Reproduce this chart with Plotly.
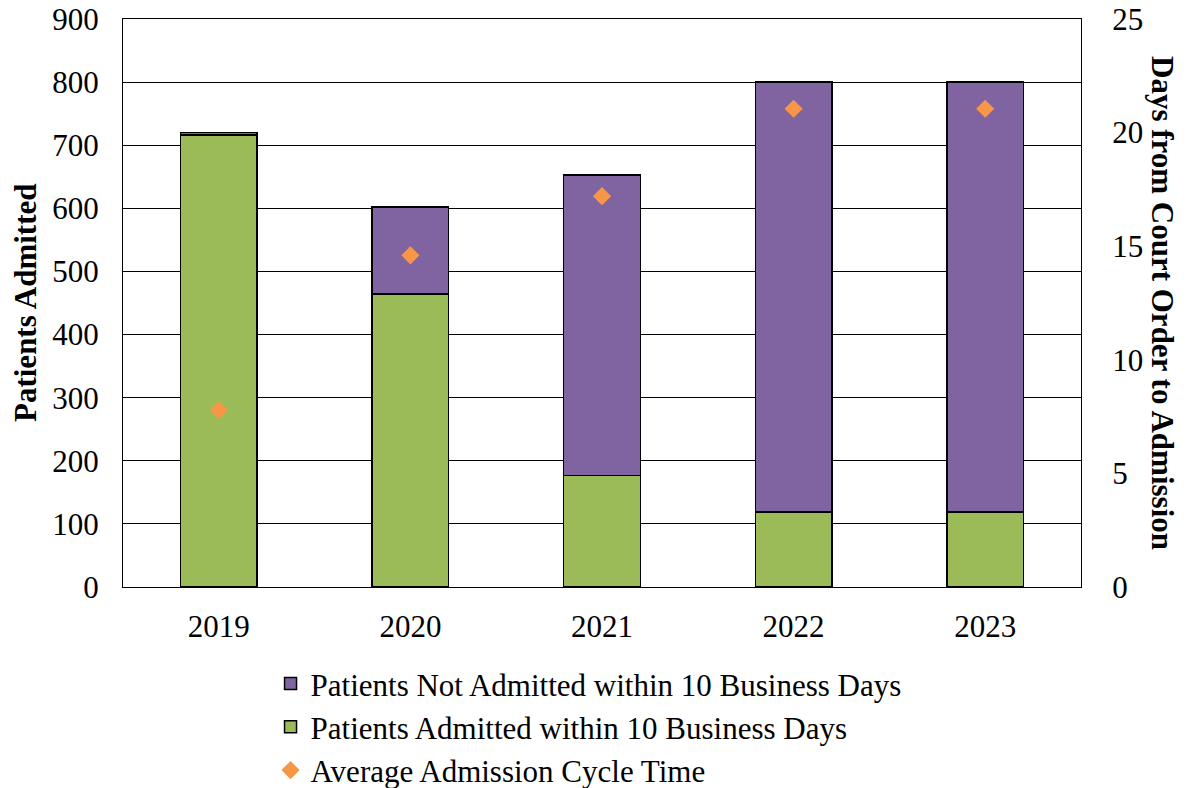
import plotly.graph_objects as go

years = ["2019", "2020", "2021", "2022", "2023"]
admitted_within = [716, 464, 177, 119, 119]
not_admitted_within = [4, 138, 476, 681, 681]
avg_cycle_days = [7.8, 14.6, 17.2, 21.05, 21.05]

FONT = "Liberation Serif, Times New Roman, serif"
FS = 31

# page body has an 8px margin, so the figure is sized to fit the window
W, H = 1179, 780
L, R, T, B = 115, 106, 11, 201
PW = W - L - R

fig = go.Figure()
fig.add_trace(go.Bar(
    x=years, y=admitted_within, name="Patients Admitted within 10 Business Days",
    marker=dict(color="#9BBB59", line=dict(color="black", width=1.5)),
    width=0.4, legendrank=2, legendgroup="b",
))
fig.add_trace(go.Bar(
    x=years, y=not_admitted_within, name="Patients Not Admitted within 10 Business Days",
    marker=dict(color="#8064A2", line=dict(color="black", width=1.5)),
    width=0.4, legendrank=1, legendgroup="a",
))
fig.add_trace(go.Scatter(
    x=years, y=avg_cycle_days, name="Average Admission Cycle Time",
    mode="markers", yaxis="y2",
    marker=dict(symbol="diamond", size=14, color="#F79646"),
    legendrank=3, legendgroup="c",
))

fig.update_layout(
    width=W, height=H,
    margin=dict(l=L, r=R, t=T, b=B, autoexpand=False),
    barmode="stack",
    plot_bgcolor="white", paper_bgcolor="white",
    font=dict(family=FONT, size=FS, color="black"),
    showlegend=True,
    legend=dict(x=0.154, y=-0.123, xanchor="left", yanchor="top",
                orientation="v", tracegroupgap=0,
                font=dict(family=FONT, size=FS, color="black")),
    xaxis=dict(showline=True, linecolor="black", linewidth=1, mirror=True,
               ticks="outside", ticklen=12, tickcolor="rgba(0,0,0,0)",
               tickfont=dict(size=FS), ticklabeloverflow="allow"),
    yaxis=dict(range=[0, 900], dtick=100, showgrid=True, gridcolor="black",
               gridwidth=1, showline=True, linecolor="black", mirror=True,
               ticks="outside", ticklen=17, tickcolor="rgba(0,0,0,0)",
               tickfont=dict(size=FS), zeroline=False, ticklabeloverflow="allow"),
    yaxis2=dict(range=[0, 25], dtick=5, overlaying="y", side="right",
                showgrid=False, ticks="outside", ticklen=24,
                tickcolor="rgba(0,0,0,0)", tickfont=dict(size=FS), zeroline=False,
                ticklabeloverflow="allow"),
    annotations=[
        dict(text="<b>Patients Admitted</b>", xref="paper", yref="paper",
             x=(25 - 123) / PW, y=0.5, xanchor="center", yanchor="middle",
             textangle=-90, showarrow=False,
             font=dict(family=FONT, size=FS, color="black")),
        dict(text="<b>Days from Court Order to Admission</b>", xref="paper", yref="paper",
             x=(1163 - 123) / PW, y=0.5, xanchor="center", yanchor="middle",
             textangle=90, showarrow=False,
             font=dict(family=FONT, size=FS, color="black")),
    ],
)

fig.write_html("out.html")
